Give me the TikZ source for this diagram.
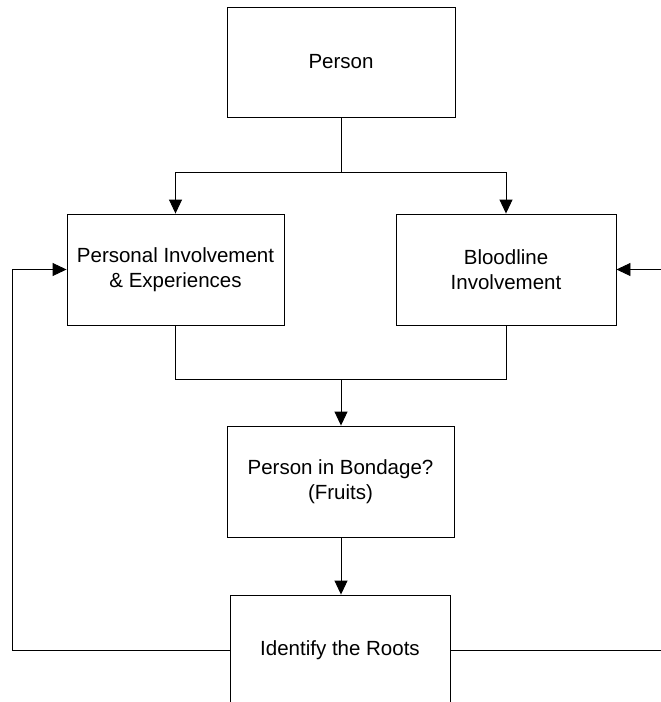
\documentclass[tikz,border=0pt]{standalone}
\usepackage{fontspec}
\setmainfont{Liberation Sans}
\usetikzlibrary{arrows.meta}
\begin{document}
\begin{tikzpicture}[x=1pt,y=-1pt,
  boxnode/.style={draw=black,line width=0.9pt,fill=white,rectangle,align=center,
    font=\fontsize{20.5}{24.5}\selectfont,inner sep=0pt},
  conn/.style={draw=black,line width=0.9pt},
  arr/.style={conn,-{Triangle[length=14pt,width=13pt]}}]
\useasboundingbox (0,0) rectangle (661,702);
\clip (0,0) rectangle (661,702);
\fill[white] (0,0) rectangle (661,702);
\node[boxnode,minimum width=228pt,minimum height=110pt] (person) at (341,62) {Person};
\node[boxnode,minimum width=217pt,minimum height=111pt] (pie) at (175.5,269.5) {Personal Involvement\\\& Experiences};
\node[boxnode,minimum width=220pt,minimum height=111pt] (blood) at (506,269.5) {Bloodline\\Involvement};
\node[boxnode,minimum width=227pt,minimum height=111pt] (bond) at (340.5,481.5) {Person in Bondage?\\(Fruits)};
\node[boxnode,minimum width=220pt,minimum height=110pt] (roots) at (340,650) {Identify the Roots};
\coordinate (fork) at (341,172);
\coordinate (merge) at (341,379);
\coordinate (lx) at (12,0);
\coordinate (rx) at (670,0);
\draw[conn] (person.south) -- (fork);
\draw[arr] (fork) -| (pie.north);
\draw[arr] (fork) -| (blood.north);
\draw[conn] (pie.south) |- (merge);
\draw[conn] (blood.south) |- (merge);
\draw[arr] (merge) -- (merge |- bond.north);
\draw[arr] (bond.south -| merge) -- (merge |- roots.north);
\draw[arr] (roots.west) -- (roots.west -| lx) |- (pie.west);
\draw[conn] (roots.east) -- (roots.east -| rx);
\draw[arr] (blood.east -| rx) -- (blood.east);
\end{tikzpicture}
\end{document}
